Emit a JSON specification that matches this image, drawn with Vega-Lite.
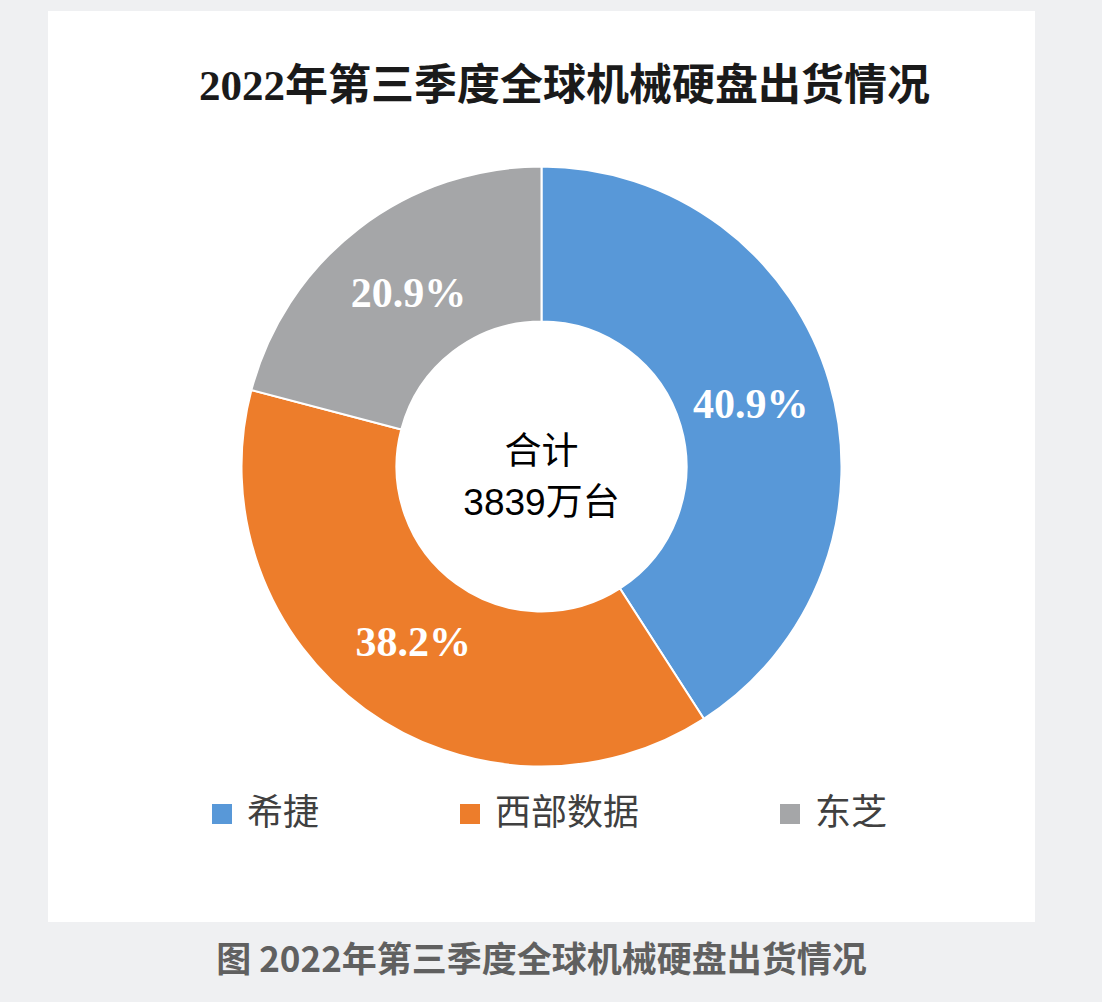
{
  "$schema": "https://vega.github.io/schema/vega-lite/v6.json",
  "background": "#eff0f2",
  "padding": {"left": 48, "top": 11, "right": 67, "bottom": 30},
  "title": {
    "text": "图 2022年第三季度全球机械硬盘出货情况",
    "orient": "bottom",
    "anchor": "middle",
    "offset": 22,
    "font": "Noto Sans CJK SC",
    "fontSize": 35,
    "fontWeight": "bold",
    "color": "#606060"
  },
  "vconcat": [
    {
      "width": 987,
      "height": 911,
      "view": {"fill": "#ffffff", "stroke": null},
      "title": {
        "text": "2022年第三季度全球机械硬盘出货情况",
        "offset": -98,
        "dx": 23,
        "font": "Liberation Serif, Noto Sans CJK SC",
        "fontSize": 43,
        "fontWeight": "bold",
        "color": "#1a1a1a"
      },
      "data": {
        "values": [
          {"vendor": "希捷", "share": 0.409},
          {"vendor": "西部数据", "share": 0.382},
          {"vendor": "东芝", "share": 0.209}
        ]
      },
      "layer": [
        {
          "mark": {"type": "arc", "outerRadius": 300, "innerRadius": 145, "stroke": "#ffffff", "strokeWidth": 2},
          "encoding": {
            "theta": {"field": "share", "type": "quantitative", "stack": true},
            "order": {"field": "share", "sort": "descending"},
            "color": {
              "field": "vendor",
              "type": "nominal",
              "scale": {
                "domain": ["希捷", "西部数据", "东芝"],
                "range": ["#5898d8", "#ed7d2b", "#a5a6a8"]
              },
              "legend": {
                "title": null,
                "orient": "none",
                "legendX": 156,
                "legendY": 785,
                "direction": "horizontal",
                "columns": 3,
                "columnPadding": 132,
                "symbolType": "square",
                "symbolSize": 400,
                "symbolStrokeWidth": 0,
                "labelOffset": 7,
                "labelFont": "Noto Sans CJK SC",
                "labelFontSize": 36,
                "labelColor": "#404040",
                "labelLimit": 0
              }
            }
          }
        },
        {
          "mark": {
            "type": "text",
            "radius": 218,
            "font": "Liberation Serif",
            "fontSize": 42,
            "fontWeight": "bold",
            "fill": "#ffffff"
          },
          "encoding": {
            "theta": {"field": "share", "type": "quantitative", "stack": true},
            "order": {"field": "share", "sort": "descending"},
            "detail": {"field": "vendor", "type": "nominal"},
            "text": {"field": "share", "type": "quantitative", "format": ".1%"}
          }
        },
        {
          "data": {"values": [{"total": "合计\n3839万台"}]},
          "mark": {
            "type": "text",
            "lineBreak": "\n",
            "lineHeight": 51,
            "dy": -14,
            "font": "Liberation Sans, Noto Sans CJK SC",
            "fontSize": 37,
            "fill": "#000000"
          },
          "encoding": {"text": {"field": "total", "type": "nominal"}}
        }
      ]
    }
  ],
  "config": {"view": {"fill": "#ffffff", "stroke": null}}
}
